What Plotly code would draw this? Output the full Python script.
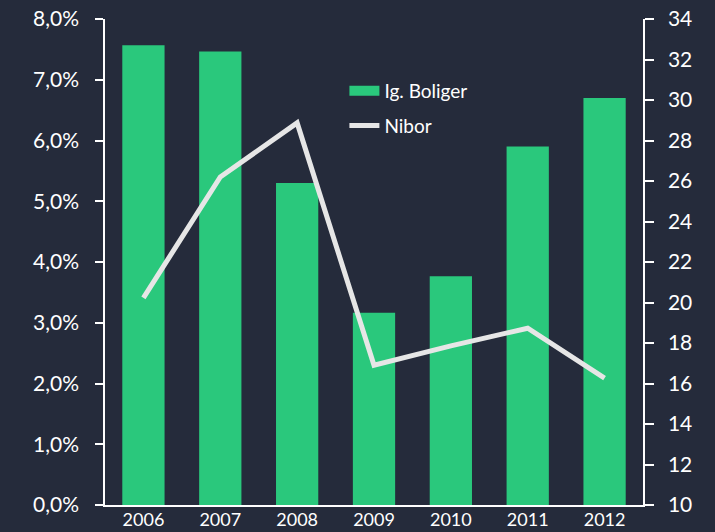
import plotly.graph_objects as go

years = ["2006", "2007", "2008", "2009", "2010", "2011", "2012"]
ig_boliger = [32.7, 32.4, 25.9, 19.5, 21.3, 27.7, 30.1]
nibor = [3.41, 5.40, 6.29, 2.30, 2.62, 2.91, 2.09]

BG = "#252b3b"
GREEN = "#2ac87c"
LINE = "#e6e6e6"
FONT = "Lato"

fig = go.Figure()
fig.add_trace(go.Bar(x=years, y=ig_boliger, name="Ig. Boliger", marker_color=GREEN,
                     marker_line_width=0, yaxis="y", showlegend=False))
# legend entry for the bars (wide rectangle swatch)
fig.add_trace(go.Scatter(x=[None], y=[None], name="Ig. Boliger", mode="lines",
                         line=dict(color=GREEN, width=13), yaxis="y", legendgroup="a"))
fig.add_trace(go.Scatter(x=years, y=nibor, name="Nibor", mode="lines",
                         line=dict(color=LINE, width=5), yaxis="y2", legendgroup="b"))

fig.update_layout(
    width=715, height=532,
    margin=dict(l=105, r=72, t=19, b=27),
    paper_bgcolor=BG, plot_bgcolor=BG,
    font=dict(family=FONT, color="white", size=21),
    separators=", ",
    bargap=0.45,
    showlegend=True,
    legend=dict(x=0.445, y=0.891, xanchor="left", yanchor="top",
                bgcolor="rgba(0,0,0,0)", font=dict(size=19, color="white"),
                itemwidth=30, traceorder="grouped", tracegroupgap=7),
    xaxis=dict(showgrid=False, showline=True, linecolor="white", linewidth=1.5,
               ticks="", tickfont=dict(size=18), zeroline=False, automargin=False,
               ticklabelstandoff=-2),
    yaxis=dict(range=[10, 34], dtick=2, side="right", showgrid=False,
               showline=True, linecolor="white", linewidth=1.5,
               ticks="outside", ticklen=9, tickcolor="white", tickwidth=1.5,
               zeroline=False, ticklabelstandoff=10, automargin=False),
    yaxis2=dict(range=[0, 8], dtick=1, side="left", overlaying="y",
                tickformat=".1f", ticksuffix="%", showgrid=False,
                showline=True, linecolor="white", linewidth=1.5,
                ticks="outside", ticklen=8, tickcolor="white", tickwidth=1.5,
                zeroline=False, ticklabelstandoff=12, automargin=False),
)

fig.write_html("out.html", config={"displayModeBar": False},
               post_script="document.body.style.margin='0';document.body.style.background='%s';" % BG)
